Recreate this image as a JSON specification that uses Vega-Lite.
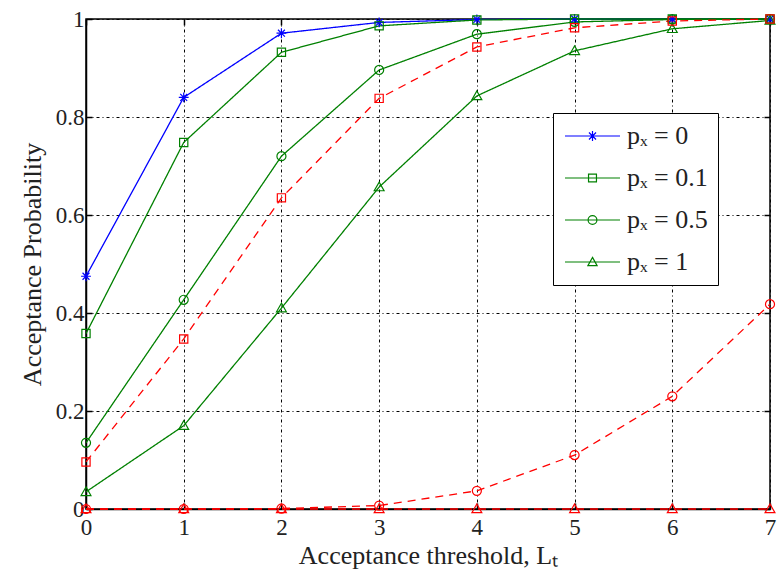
{
  "$schema": "https://vega.github.io/schema/vega-lite/v6.json",
  "width": 684,
  "height": 490,
  "autosize": "none",
  "padding": {"left": 86, "top": 19, "right": 10, "bottom": 64},
  "background": "white",
  "config": {
    "font": "Liberation Serif",
    "view": {"stroke": "black", "strokeWidth": 1.5},
    "axis": {
      "labelFont": "Liberation Serif",
      "titleFont": "Liberation Serif",
      "labelFontSize": 23,
      "titleFontSize": 26,
      "labelColor": "#222",
      "titleColor": "#222",
      "titleFontWeight": "normal",
      "domainColor": "black",
      "domainWidth": 1.5,
      "tickColor": "black",
      "tickWidth": 1.5,
      "gridColor": "black",
      "gridOpacity": 1,
      "gridWidth": 1,
      "gridDash": [3, 3, 1, 3]
    }
  },
  "data": {
    "values": [
      {"series": "p0", "L": 0, "p": 0.475},
      {"series": "p0", "L": 1, "p": 0.84},
      {"series": "p0", "L": 2, "p": 0.971},
      {"series": "p0", "L": 3, "p": 0.993},
      {"series": "p0", "L": 4, "p": 0.999},
      {"series": "p0", "L": 5, "p": 1},
      {"series": "p0", "L": 6, "p": 1},
      {"series": "p0", "L": 7, "p": 1},
      {"series": "p01", "L": 0, "p": 0.358},
      {"series": "p01", "L": 1, "p": 0.748},
      {"series": "p01", "L": 2, "p": 0.932},
      {"series": "p01", "L": 3, "p": 0.986},
      {"series": "p01", "L": 4, "p": 0.998},
      {"series": "p01", "L": 5, "p": 1},
      {"series": "p01", "L": 6, "p": 1},
      {"series": "p01", "L": 7, "p": 1},
      {"series": "p05", "L": 0, "p": 0.135},
      {"series": "p05", "L": 1, "p": 0.427},
      {"series": "p05", "L": 2, "p": 0.72},
      {"series": "p05", "L": 3, "p": 0.896},
      {"series": "p05", "L": 4, "p": 0.969},
      {"series": "p05", "L": 5, "p": 0.994},
      {"series": "p05", "L": 6, "p": 0.999},
      {"series": "p05", "L": 7, "p": 1},
      {"series": "p1", "L": 0, "p": 0.035},
      {"series": "p1", "L": 1, "p": 0.17},
      {"series": "p1", "L": 2, "p": 0.41},
      {"series": "p1", "L": 3, "p": 0.657},
      {"series": "p1", "L": 4, "p": 0.843},
      {"series": "p1", "L": 5, "p": 0.935},
      {"series": "p1", "L": 6, "p": 0.98},
      {"series": "p1", "L": 7, "p": 0.997},
      {"series": "r01", "L": 0, "p": 0.096},
      {"series": "r01", "L": 1, "p": 0.347},
      {"series": "r01", "L": 2, "p": 0.635},
      {"series": "r01", "L": 3, "p": 0.838},
      {"series": "r01", "L": 4, "p": 0.943},
      {"series": "r01", "L": 5, "p": 0.982},
      {"series": "r01", "L": 6, "p": 0.996},
      {"series": "r01", "L": 7, "p": 1},
      {"series": "r05", "L": 0, "p": 0},
      {"series": "r05", "L": 1, "p": 0},
      {"series": "r05", "L": 2, "p": 0.001},
      {"series": "r05", "L": 3, "p": 0.007},
      {"series": "r05", "L": 4, "p": 0.037},
      {"series": "r05", "L": 5, "p": 0.11},
      {"series": "r05", "L": 6, "p": 0.23},
      {"series": "r05", "L": 7, "p": 0.418},
      {"series": "r1", "L": 0, "p": 0},
      {"series": "r1", "L": 1, "p": 0},
      {"series": "r1", "L": 2, "p": 0},
      {"series": "r1", "L": 3, "p": 0},
      {"series": "r1", "L": 4, "p": 0},
      {"series": "r1", "L": 5, "p": 0},
      {"series": "r1", "L": 6, "p": 0},
      {"series": "r1", "L": 7, "p": 0}
    ]
  },
  "resolve": {
    "axis": {"x": "independent", "y": "independent"},
    "scale": {"color": "independent", "shape": "independent"}
  },
  "layer": [
    {
      "mark": {"type": "line", "strokeWidth": 1.3, "clip": false},
      "encoding": {
        "x": {
          "field": "L", "type": "quantitative",
          "scale": {"domain": [0, 7], "nice": false, "zero": false},
          "axis": {"title": "Acceptance threshold, Lₜ", "values": [0,1,2,3,4,5,6,7], "grid": true, "tickSize": -6, "labelPadding": 13, "titlePadding": 3, "labelFlush": false}
        },
        "y": {
          "field": "p", "type": "quantitative",
          "scale": {"domain": [0, 1], "nice": false},
          "axis": {"title": "Acceptance Probability", "values": [0,0.2,0.4,0.6,0.8,1], "format": "~g", "grid": true, "tickSize": -6, "labelPadding": 8, "titlePadding": 10, "labelFlush": false}
        },
        "color": {
          "field": "series", "type": "nominal",
          "scale": {"domain": ["p0","p01","p05","p1","r01","r05","r1"], "range": ["#0000ff","#008000","#008000","#008000","#ff0000","#ff0000","#ff0000"]},
          "legend": null
        },
        "strokeDash": {
          "field": "series", "type": "nominal",
          "scale": {"domain": ["p0","p01","p05","p1","r01","r05","r1"], "range": [[1,0],[1,0],[1,0],[1,0],[8,6],[8,6],[8,6]]},
          "legend": null
        },
        "order": {"field": "L", "type": "quantitative"}
      }
    },
    {
      "mark": {"type": "point", "filled": false, "strokeWidth": 1.2, "opacity": 1, "clip": false},
      "encoding": {
        "x": {"field": "L", "type": "quantitative", "axis": {"orient": "top", "labels": false, "title": null, "domain": false, "grid": false, "tickSize": -6, "values": [0,1,2,3,4,5,6,7]}},
        "y": {"field": "p", "type": "quantitative", "axis": {"orient": "right", "labels": false, "title": null, "domain": false, "grid": false, "tickSize": -6, "values": [0,0.2,0.4,0.6,0.8,1]}},
        "size": {"value": 270},
        "color": {
          "field": "series", "type": "nominal",
          "scale": {"domain": ["p0","p01","p05","p1","r01","r05","r1"], "range": ["#0000ff","#008000","#008000","#008000","#ff0000","#ff0000","#ff0000"]},
          "legend": null
        },
        "shape": {
          "field": "series", "type": "nominal",
          "legend": null,
          "scale": {"domain": ["p0","p01","p05","p1","r01","r05","r1"], "range": [
            "M0,-0.6L0,0.6M-0.6,0L0.6,0M-0.42,-0.42L0.42,0.42M-0.42,0.42L0.42,-0.42",
            "M-0.5,-0.5H0.5V0.5H-0.5Z",
            "M0.55,0A0.55,0.55 0 1,1 -0.55,0A0.55,0.55 0 1,1 0.55,0Z",
            "M0,-0.6L0.6,0.45L-0.6,0.45Z",
            "M-0.5,-0.5H0.5V0.5H-0.5Z",
            "M0.55,0A0.55,0.55 0 1,1 -0.55,0A0.55,0.55 0 1,1 0.55,0Z",
            "M0,-0.6L0.6,0.45L-0.6,0.45Z"
          ]}
        }
      }
    },
    {
      "transform": [{"filter": {"field": "series", "oneOf": ["p0","p01","p05","p1"]}}],
      "mark": {"type": "point", "filled": false, "strokeWidth": 1.2, "opacity": 0, "clip": false},
      "encoding": {
        "x": {"field": "L", "type": "quantitative", "axis": null},
        "y": {"field": "p", "type": "quantitative", "axis": null},
        "color": {
          "field": "series", "type": "nominal",
          "scale": {"domain": ["p0","p01","p05","p1"], "range": ["#0000ff","#008000","#008000","#008000"]},
          "legend": {
            "title": null,
            "orient": "none",
            "legendX": 467,
            "legendY": 94,
            "padding": 10,
            "strokeColor": "black",
            "fillColor": "white",
            "symbolSize": 484,
            "symbolStrokeWidth": 1.2,
            "symbolOpacity": 1,
            "labelFont": "Liberation Serif",
            "labelFontSize": 26,
            "labelColor": "#222",
            "labelOffset": 38,
            "rowPadding": 16,
            "labelExpr": "datum.value === 'p0' ? 'pₓ = 0' : datum.value === 'p01' ? 'pₓ = 0.1' : datum.value === 'p05' ? 'pₓ = 0.5' : 'pₓ = 1'"
          }
        },
        "shape": {
          "field": "series", "type": "nominal",
          "scale": {"domain": ["p0","p01","p05","p1"], "range": [
            "M-1,0L4,0M1.5,-0.45L1.5,0.45M1.05,0L1.95,0M1.18,-0.32L1.82,0.32M1.18,0.32L1.82,-0.32",
            "M-1,0L4,0M1.14,-0.36H1.86V0.36H1.14Z",
            "M-1,0L4,0M1.9,0A0.4,0.4 0 1,1 1.1,0A0.4,0.4 0 1,1 1.9,0Z",
            "M-1,0L4,0M1.5,-0.42L1.92,0.33L1.08,0.33Z"
          ]},
          "legend": {
            "title": null,
            "orient": "none",
            "legendX": 467,
            "legendY": 94,
            "padding": 10,
            "strokeColor": "black",
            "fillColor": "white",
            "symbolSize": 484,
            "symbolStrokeWidth": 1.2,
            "symbolOpacity": 1,
            "labelFont": "Liberation Serif",
            "labelFontSize": 26,
            "labelColor": "#222",
            "labelOffset": 38,
            "rowPadding": 16,
            "labelExpr": "datum.value === 'p0' ? 'pₓ = 0' : datum.value === 'p01' ? 'pₓ = 0.1' : datum.value === 'p05' ? 'pₓ = 0.5' : 'pₓ = 1'"
          }
        }
      }
    }
  ]
}
